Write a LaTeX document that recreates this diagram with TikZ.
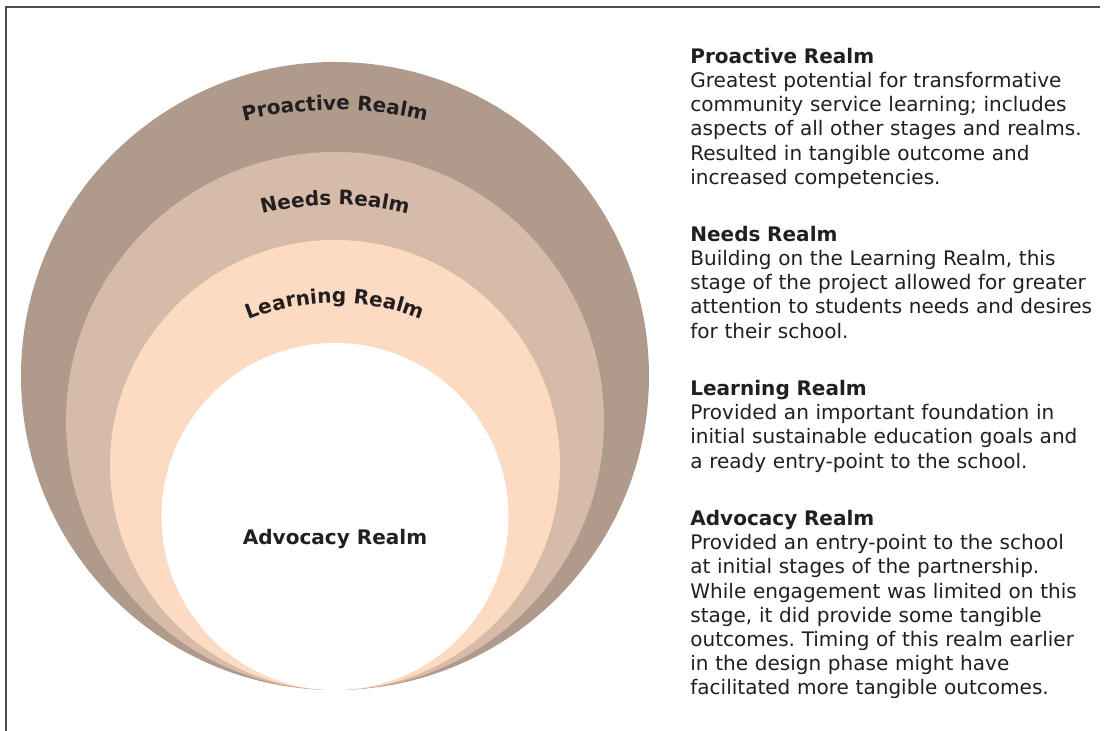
\documentclass[tikz,border=0pt]{standalone}
\usepackage{fontspec}
\setmainfont{DejaVu Sans}
\usetikzlibrary{decorations.text}
\frenchspacing

\definecolor{proactivecol}{HTML}{B09A8B}
\definecolor{needscol}{HTML}{D6BBA9}
\definecolor{learningcol}{HTML}{FCDBC2}
\definecolor{inkcol}{HTML}{231F20}
\definecolor{framecol}{HTML}{4D4D4D}

\newcommand{\realmfont}{\fontsize{11.4}{13.7}\selectfont\bfseries}
\newcommand{\descfont}{\fontsize{11.4}{13.66}\selectfont}

\tikzset{
  realmlabel/.style={decorate, decoration={text along path, text align=center, text color=inkcol}},
  realmdesc/.style={anchor=base west, inner sep=0pt, text width=9cm, align=left, font=\descfont, text=inkcol},
}

\begin{document}
\begin{tikzpicture}
        \def\cx{6.70}
        \def\by{0.82}
        \useasboundingbox[fill=white] (0,0) rectangle (22.14,14.62);
        % frame
        \draw[framecol, line width=0.6pt] (0.12,0) -- (0.12,14.48) -- (22.0,14.48);
        % nested realms, all touching at the bottom
        \fill[proactivecol] (\cx, {\by+6.28}) circle (6.28);
        \fill[needscol] (\cx, {\by+5.38}) circle (5.38);
        \fill[learningcol] (\cx, {\by+4.50}) circle (4.50);
        \fill[white] (\cx, {\by+3.47}) circle (3.47);
        % curved labels
        \path[realmlabel, decoration={text={|\realmfont|Proactive Realm}}] (\cx,4.90) ++(110:7.52) arc (110:70:7.52);
        \path[realmlabel, decoration={text={|\realmfont|Needs Realm}}] (\cx,4.60) ++(115:5.92) arc (115:65:5.92);
        \path[realmlabel, decoration={text={|\realmfont|Learning Realm}}] (\cx,3.94) ++(125:4.62) arc (125:55:4.62);
        \node[font=\realmfont, text=inkcol, anchor=base, inner sep=0pt] (advocacy) at (\cx,3.72) {Advocacy Realm};
        % descriptions
        \node[realmdesc] (descProactive) at (13.80,13.34) {\textbf{Proactive Realm}\\
          Greatest potential for transformative\\
          community service learning; includes\\
          aspects of all other stages and realms.\\
          Resulted in tangible outcome and\\
          increased competencies.};
        \node[realmdesc] (descNeeds) at (13.80,9.78) {\textbf{Needs Realm}\\
          Building on the Learning Realm, this\\
          stage of the project allowed for greater\\
          attention to students needs and desires\\
          for their school.};
        \node[realmdesc] (descLearning) at (13.80,6.70) {\textbf{Learning Realm}\\
          Provided an important foundation in\\
          initial sustainable education goals and\\
          a ready entry-point to the school.};
        \node[realmdesc] (descAdvocacy) at (13.80,4.10) {\textbf{Advocacy Realm}\\
          Provided an entry-point to the school\\
          at initial stages of the partnership.\\
          While engagement was limited on this\\
          stage, it did provide some tangible\\
          outcomes. Timing of this realm earlier\\
          in the design phase might have\\
          facilitated more tangible outcomes.};
\end{tikzpicture}
\end{document}
